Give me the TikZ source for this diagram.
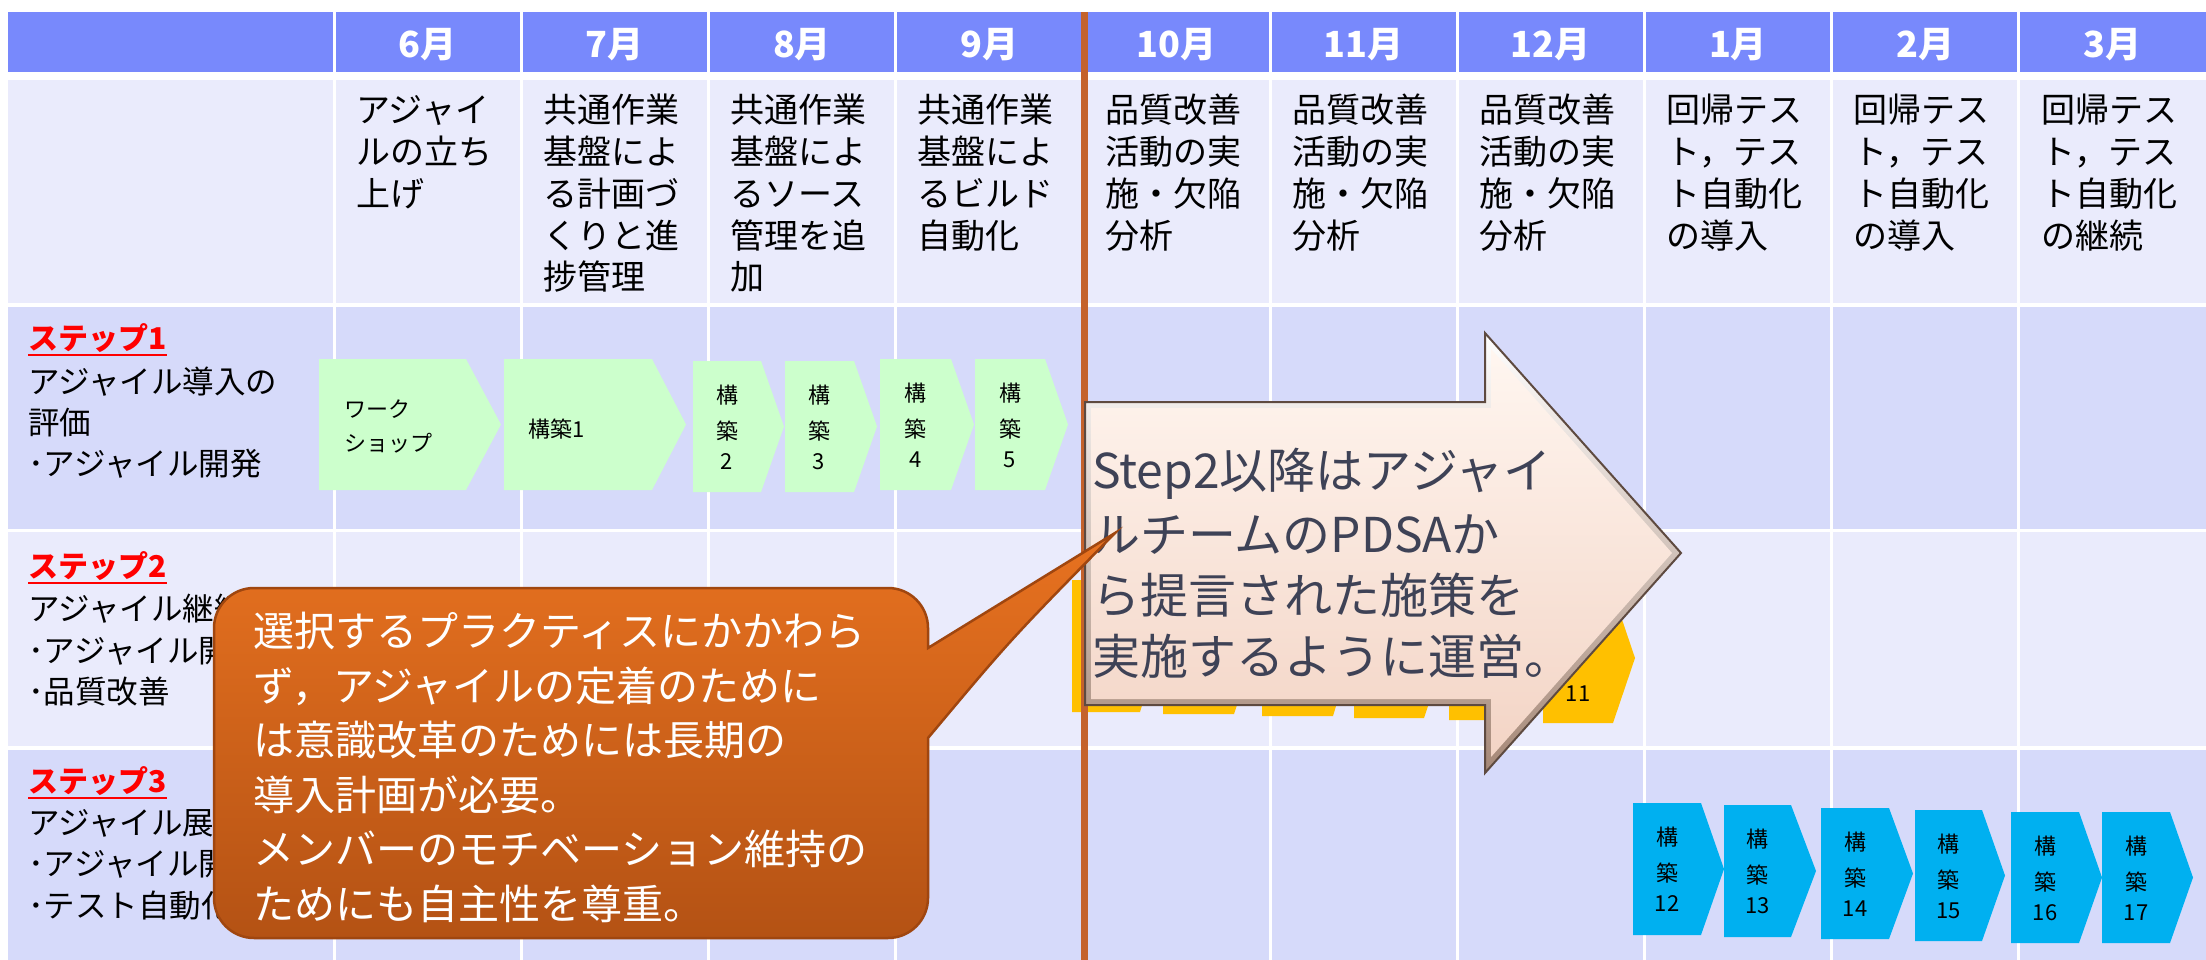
\documentclass[tikz,border=0pt]{standalone}
\usepackage{fontspec}
\setmainfont{Noto Sans CJK JP}
\definecolor{hdr}{RGB}{120,137,252}
\definecolor{rowA}{RGB}{234,235,252}
\definecolor{rowB}{RGB}{214,218,250}
\definecolor{grn}{RGB}{204,255,204}
\definecolor{ylw}{RGB}{255,192,0}
\definecolor{cyn}{RGB}{0,176,240}
\definecolor{vline}{RGB}{196,98,44}
\definecolor{arrtxt}{RGB}{62,66,86}
\definecolor{arrtop}{RGB}{255,246,240}
\definecolor{arrbot}{RGB}{243,212,197}
\definecolor{arrhi}{RGB}{255,255,255}
\definecolor{arrlo}{RGB}{165,135,118}
\definecolor{arredge}{RGB}{94,74,64}
\definecolor{caltop}{RGB}{232,114,32}
\definecolor{calbot}{RGB}{180,82,20}
\definecolor{caledge}{RGB}{160,70,15}
\tikzset{
  month/.style={font=\fontsize{36}{36}\selectfont\bfseries, text=white, anchor=base, inner sep=0pt},
  desc/.style={font=\fontsize{34}{34}\selectfont, anchor=base west, inner sep=0pt},
  steptitle/.style={font=\fontsize{30}{30}\selectfont\bfseries, text=red, anchor=base west, inner sep=0pt},
  steptext/.style={font=\fontsize{31.5}{31.5}\selectfont, anchor=base west, inner sep=0pt},
  chlabel/.style={font=\fontsize{22}{22}\selectfont, anchor=base, inner sep=0pt},
  arrowtext/.style={font=\fontsize{48}{48}\selectfont, text=arrtxt, anchor=base west, inner sep=0pt},
  callouttext/.style={font=\fontsize{41}{41}\selectfont, text=white, anchor=base west, inner sep=0pt},
  underl/.style={red, line width=2.5pt},
}
% color, left, top, bottom, corner x, tip x
\newcommand\chevshape[6]{\fill[#1] (#2,#3) -- (#5,#3) -- (#6,{(#3+#4)/2}) -- (#5,#4) -- (#2,#4) -- cycle;}
% name, center x, top, number
\newcommand\vlabel[4]{%
  \node[chlabel] (#1a) at (#2,{#3+42}) {構};
  \node[chlabel] (#1b) at (#2,{#3+78}) {築};
  \node[chlabel] (#1c) at (#2,{#3+108}) {#4};}
\begin{document}
\begin{tikzpicture}[x=1pt,y=-1pt]
\useasboundingbox (0,0) rectangle (2206,960);
% ---------- table ----------
\fill[hdr]  (8,12)  rectangle (2206,72);
\fill[rowA] (8,80)  rectangle (2206,303);
\fill[rowB] (8,307) rectangle (2206,529);
\fill[rowA] (8,532) rectangle (2206,746);
\fill[rowB] (8,750) rectangle (2206,960);
\foreach \x in {334,521.2,708.4,895.6,1082.8,1270,1457.2,1644.4,1831.6,2018.8}
  \draw[white,line width=3pt] (\x,12) -- (\x,960);
% ---------- months ----------
\foreach \m [count=\k from 0] in {6月,7月,8月,9月,10月,11月,12月,1月,2月,3月}
  \node[month] (m\k) at ({427.6+187.2*\k},58) {\m};
% ---------- descriptions ----------
\foreach \lines [count=\k from 0] in {
   {アジャイ,ルの立ち,上げ},
   {共通作業,基盤によ,る計画づ,くりと進,捗管理},
   {共通作業,基盤によ,るソース,管理を追,加},
   {共通作業,基盤によ,るビルド,自動化},
   {品質改善,活動の実,施・欠陥,分析},
   {品質改善,活動の実,施・欠陥,分析},
   {品質改善,活動の実,施・欠陥,分析},
   {回帰テス,ト，テス,ト自動化,の導入},
   {回帰テス,ト，テス,ト自動化,の導入},
   {回帰テス,ト，テス,ト自動化,の継続}}
  \foreach \t [count=\i from 0] in \lines
    \node[desc] (d\k-\i) at ({356+187.2*\k},{123+41.7*\i}) {\t};
% ---------- step labels ----------
\node[steptitle] (s1) at (28,349.5) {ステップ1};
\draw[underl] ([yshift=-5.5pt]s1.base west) -- ([yshift=-5.5pt]s1.base east);
\node[steptext] (s1a) at (28,393) {アジャイル導入の};
\node[steptext] (s1b) at (28,434) {評価};
\node[steptext] (s1c) at (28,475) {･アジャイル開発};
\node[steptitle] (s2) at (28,577.5) {ステップ2};
\draw[underl] ([yshift=-5.5pt]s2.base west) -- ([yshift=-5.5pt]s2.base east);
\node[steptext] (s2a) at (28,620) {アジャイル継続};
\node[steptext] (s2b) at (28,662) {･アジャイル開発};
\node[steptext] (s2c) at (28,703) {･品質改善};
\node[steptitle] (s3) at (28,792.5) {ステップ3};
\draw[underl] ([yshift=-5.5pt]s3.base west) -- ([yshift=-5.5pt]s3.base east);
\node[steptext] (s3a) at (28,834) {アジャイル展開};
\node[steptext] (s3b) at (28,875) {･アジャイル開発};
\node[steptext] (s3c) at (28,917) {･テスト自動化};
% ---------- step 1 chevrons ----------
\chevshape{grn}{319}{359}{490}{466}{501}
\chevshape{grn}{504}{359}{490}{652}{686}
\chevshape{grn}{693}{361}{492}{761}{784}
\chevshape{grn}{785}{361}{492}{854}{877}
\chevshape{grn}{880}{359}{490}{951}{974}
\chevshape{grn}{975}{359}{490}{1045}{1068}
\node[chlabel,anchor=base west] (w1) at (344,417) {ワーク};
\node[chlabel,anchor=base west] (w2) at (344,451) {ショップ};
\node[chlabel,anchor=base west] (b1) at (528,437) {構築1};
\vlabel{b2}{727}{361}{2}
\vlabel{b3}{819}{361}{3}
\vlabel{b4}{915.5}{359}{4}
\vlabel{b5}{1010}{359}{5}
% ---------- step 2 chevrons ----------
\chevshape{ylw}{1072}{580}{712}{1140}{1160}
\chevshape{ylw}{1163}{582}{714}{1234}{1256}
\chevshape{ylw}{1262}{584}{716}{1333}{1353}
\chevshape{ylw}{1354}{586}{718}{1424}{1446}
\chevshape{ylw}{1449}{589}{720}{1519}{1540}
\chevshape{ylw}{1543}{593}{723}{1613}{1635}
\node[chlabel] (y11c) at (1578,701) {11};
% ---------- step 3 chevrons ----------
\chevshape{cyn}{1633}{803}{935}{1701}{1724}
\chevshape{cyn}{1724}{805}{937}{1791}{1816}
\chevshape{cyn}{1821}{808}{939}{1889}{1913}
\chevshape{cyn}{1915}{810}{941}{1982}{2005}
\chevshape{cyn}{2011}{812}{943}{2079}{2102}
\chevshape{cyn}{2102}{812}{943}{2170}{2193}
\vlabel{c12}{1667}{803}{12}
\vlabel{c13}{1757.5}{805}{13}
\vlabel{c14}{1855}{808}{14}
\vlabel{c15}{1948.5}{810}{15}
\vlabel{c16}{2045}{812}{16}
\vlabel{c17}{2136}{812}{17}
% ---------- vertical line ----------
\draw[vline,line width=7pt] (1084,12) -- (1084,960);
% ---------- big arrow ----------
\shadedraw[top color=arrhi, bottom color=arrlo, draw=arredge, line width=2pt]
  (1085,402) -- (1485,402) -- (1485,333) -- (1681,553) -- (1485,773) -- (1485,705) -- (1085,705) -- cycle;
\shade[top color=arrtop, bottom color=arrbot]
  (1091,408) -- (1491,408) -- (1491,349) -- (1672,553) -- (1491,757) -- (1491,699) -- (1091,699) -- cycle;
\node[arrowtext] (a1) at (1092,488) {Step2以降はアジャイ};
\node[arrowtext] (a2) at (1092,552) {ルチームのPDSAか};
\node[arrowtext] (a3) at (1092,613) {ら提言された施策を};
\node[arrowtext] (a4) at (1092,674) {実施するように運営。};
% ---------- callout ----------
\shadedraw[top color=caltop, bottom color=calbot, draw=caledge, line width=2.5pt]
  (214,628) arc[start angle=180,end angle=270,radius=40] -- (888,588)
  arc[start angle=270,end angle=360,radius=40] -- (928,648)
  -- (1115,533) .. controls (1010,640) .. (928,738) -- (928,898)
  arc[start angle=0,end angle=90,radius=40] -- (254,938)
  arc[start angle=90,end angle=180,radius=40] -- cycle;
\node[callouttext] (c1) at (253,646) {選択するプラクティスにかかわら};
\node[callouttext] (c2) at (253,701) {ず，アジャイルの定着のために};
\node[callouttext] (c3) at (253,755) {は意識改革のためには長期の};
\node[callouttext] (c4) at (253,810) {導入計画が必要。};
\node[callouttext] (c5) at (253,864) {メンバーのモチベーション維持の};
\node[callouttext] (c6) at (253,919) {ためにも自主性を尊重。};
\end{tikzpicture}
\end{document}
